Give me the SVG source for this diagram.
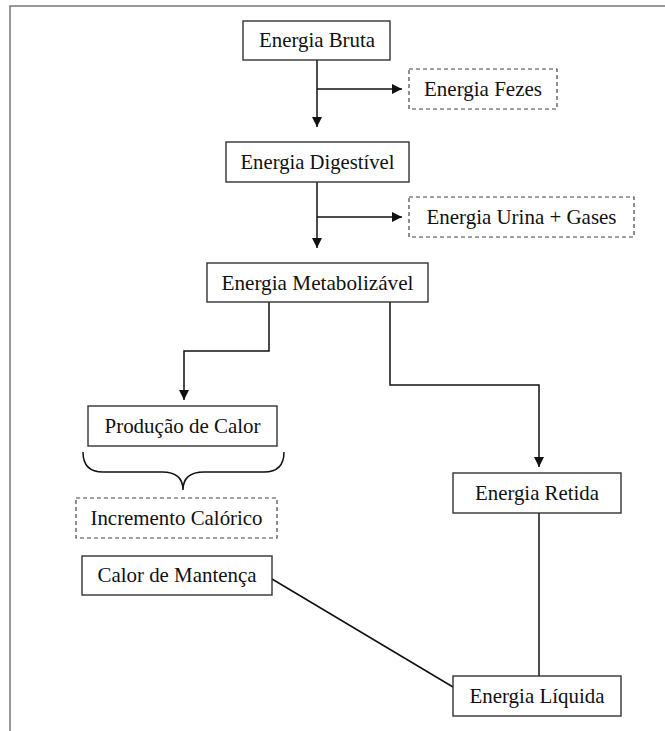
<svg xmlns="http://www.w3.org/2000/svg" width="665" height="731" viewBox="0 0 665 731">
<style>
.box{fill:#fff;stroke:#333;stroke-width:1.4}
.dash{fill:#fff;stroke:#444;stroke-width:1.2;stroke-dasharray:4,3}
.t{font-family:"Liberation Serif","Times New Roman",serif;font-size:22px;fill:#111;text-anchor:middle}
.c{fill:none;stroke:#111;stroke-width:1.5}
</style>
<defs>
<marker id="ah" viewBox="0 0 10 10" refX="10" refY="5" markerWidth="10" markerHeight="10" markerUnits="userSpaceOnUse" orient="auto">
<path d="M0,0 L10,5 L0,10 Z" fill="#111"/>
</marker>
</defs>
<rect width="665" height="731" fill="#fff"/>
<path d="M10,731 L10,6 L665,6" fill="none" stroke="#777" stroke-width="1.5"/>
<g id="connectors">
<path class="c" d="M317,60 L317,127" marker-end="url(#ah)"/>
<path class="c" d="M317,89 L402,89" marker-end="url(#ah)"/>
<path class="c" d="M317,182 L317,248" marker-end="url(#ah)"/>
<path class="c" d="M317,217 L402,217" marker-end="url(#ah)"/>
<path class="c" d="M269,302 L269,351 L184,351 L184,400" marker-end="url(#ah)"/>
<path class="c" d="M390,302 L390,385 L539,385 L539,467" marker-end="url(#ah)"/>
<path class="c" d="M539,513 L539,676"/>
<path class="c" d="M272,579 L453,687"/>
<path class="c" d="M83,452 Q83,472 103,472 L162,472 Q183,472 183,490 Q183,472 204,472 L264,472 Q284,472 284,452"/>
</g>
<g id="energia-bruta"><rect class="box" x="243" y="21" width="147" height="39"/><text class="t" x="317" y="47" textLength="116" lengthAdjust="spacingAndGlyphs">Energia Bruta</text></g>
<g id="energia-fezes"><rect class="dash" x="409" y="69" width="148" height="40"/><text class="t" x="483" y="96" textLength="118" lengthAdjust="spacingAndGlyphs">Energia Fezes</text></g>
<g id="energia-digestivel"><rect class="box" x="226" y="142" width="183" height="40"/><text class="t" x="317.5" y="169" textLength="154" lengthAdjust="spacingAndGlyphs">Energia Digestível</text></g>
<g id="energia-urina-gases"><rect class="dash" x="409" y="197" width="225" height="40"/><text class="t" x="521.5" y="224" textLength="190" lengthAdjust="spacingAndGlyphs">Energia Urina + Gases</text></g>
<g id="energia-metabolizavel"><rect class="box" x="207" y="263" width="221" height="39"/><text class="t" x="317.5" y="290" textLength="192" lengthAdjust="spacingAndGlyphs">Energia Metabolizável</text></g>
<g id="producao-calor"><rect class="box" x="88" y="406" width="189" height="40"/><text class="t" x="182.5" y="433" textLength="156" lengthAdjust="spacingAndGlyphs">Produção de Calor</text></g>
<g id="incremento-calorico"><rect class="dash" x="76" y="498" width="201" height="40"/><text class="t" x="176.5" y="525" textLength="172" lengthAdjust="spacingAndGlyphs">Incremento Calórico</text></g>
<g id="energia-retida"><rect class="box" x="453" y="473" width="168" height="40"/><text class="t" x="537" y="500" textLength="124" lengthAdjust="spacingAndGlyphs">Energia Retida</text></g>
<g id="calor-mantenca"><rect class="box" x="82" y="556" width="190" height="39"/><text class="t" x="177" y="582" textLength="159" lengthAdjust="spacingAndGlyphs">Calor de Mantença</text></g>
<g id="energia-liquida"><rect class="box" x="453" y="676" width="168" height="40"/><text class="t" x="537" y="703" textLength="135" lengthAdjust="spacingAndGlyphs">Energia Líquida</text></g>
</svg>
